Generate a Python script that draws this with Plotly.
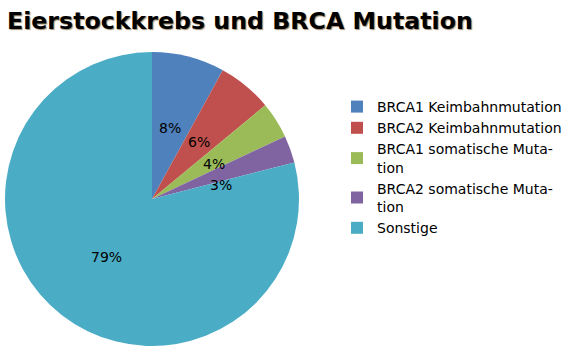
import numpy as np
import plotly.graph_objects as go

W, H = 568, 351

categories = [
    "BRCA1 Keimbahnmutation",
    "BRCA2 Keimbahnmutation",
    "BRCA1 somatische Muta-<br>tion",
    "BRCA2 somatische Muta-<br>tion",
    "Sonstige",
]
values = [8, 6, 4, 3, 79]
colors = ["#4F81BD", "#C0504D", "#9BBB59", "#8064A2", "#4BACC6"]
title_text = "Eierstockkrebs und BRCA Mutation"

FONT = "DejaVu Sans"

# pie geometry in pixels (screen coords)
cx, cy, R = 152, 199, 147

fig = go.Figure(
    go.Pie(
        labels=categories,
        values=values,
        marker=dict(colors=colors, line=dict(width=0)),
        sort=False,
        direction="clockwise",
        rotation=0,
        textinfo="none",
        domain=dict(
            x=[(cx - R) / W, (cx + R) / W],
            y=[(H - cy - R) / H, (H - cy + R) / H],
        ),
        hoverinfo="label+percent",
    )
)

# percentage labels placed at half radius on each slice bisector,
# with simple vertical overlap avoidance
vals = np.array(values, dtype=float)
frac = vals / vals.sum()
mid = (np.cumsum(frac) - frac / 2) * 2 * np.pi  # clockwise from 12 o'clock
lx = cx + 0.5 * R * np.sin(mid)
ly = cy - 0.5 * R * np.cos(mid)
text_w, min_gap = 22, 21.5
for i in range(1, len(values)):
    if abs(lx[i] - lx[i - 1]) < text_w and 0 <= ly[i] - ly[i - 1] < min_gap:
        ly[i] = ly[i - 1] + min_gap

for i, f in enumerate(frac):
    fig.add_annotation(
        text=f"{round(f * 100):d}%",
        xref="paper", yref="paper",
        x=lx[i] / W, y=1 - ly[i] / H,
        xanchor="center", yanchor="middle",
        showarrow=False,
        font=dict(family=FONT, size=14, color="black"),
    )

fig.add_annotation(
    text="<b>" + title_text + "</b>",
    xref="paper", yref="paper",
    x=5 / W, y=1 - 21 / H,
    xanchor="left", yanchor="middle",
    showarrow=False,
    font=dict(family=FONT, size=23.7, color="black",
              shadow="1px 1px 1px rgba(120,90,50,0.7)"),
)

fig.update_layout(
    width=W, height=H,
    margin=dict(l=0, r=0, t=0, b=0),
    paper_bgcolor="white",
    plot_bgcolor="white",
    showlegend=True,
    legend=dict(
        x=337 / W, y=1 - 91 / H,
        xanchor="left", yanchor="top",
        font=dict(family=FONT, size=14, color="black"),
        bgcolor="rgba(0,0,0,0)",
        traceorder="normal",
    ),
)

fig.write_html("out.html")
